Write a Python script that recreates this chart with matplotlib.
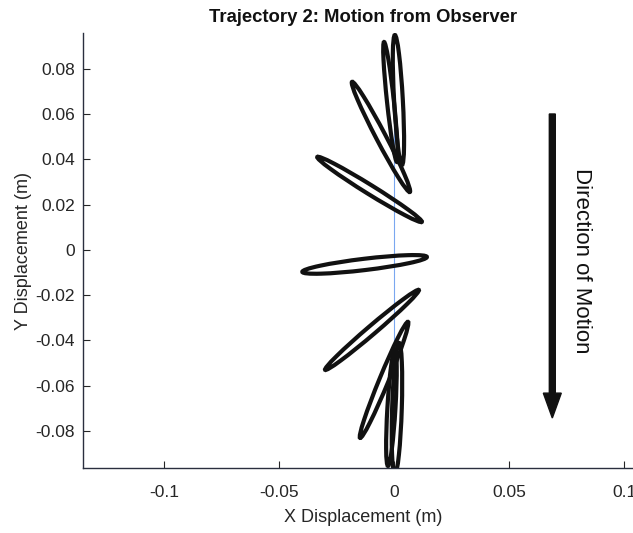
import numpy as np
import matplotlib
matplotlib.use('Agg')
import matplotlib.pyplot as plt
from matplotlib.patches import Ellipse

plt.rcParams['font.family'] = ['Liberation Sans', 'DejaVu Sans']

tip1_x = [0.0004, -0.0043, -0.0182, -0.0333, -0.0398, -0.0299, -0.0147, 0.0022, 0.0004]
tip1_y = [0.0950, 0.0919, 0.0743, 0.0411, -0.0097, -0.0530, -0.0831, -0.0411, -0.0442]
tip2_x = [0.0035, 0.0013, 0.0069, 0.0121, 0.0143, 0.0108, 0.0061, 0.0004, -0.0026]
tip2_y = [0.0376, 0.0389, 0.0256, 0.0124, -0.0031, -0.0177, -0.0318, -0.0990, -0.0955]
loop_w = [0.0038, 0.0030, 0.0042, 0.0040, 0.0050, 0.0038, 0.0040, 0.0042, 0.0035]

# observer line
obs_x = [0.0, 0.0]
obs_y = [0.055, -0.060]

# direction arrow
arrow_x = 0.0688
arrow_top = 0.0601
arrow_bot = -0.0743

xticks_v = [-0.1, -0.05, 0, 0.05, 0.1]
xticks_l = ['-0.1', '-0.05', '0', '0.05', '0.1']
yticks_v = [0.08, 0.06, 0.04, 0.02, 0, -0.02, -0.04, -0.06, -0.08]
yticks_l = ['0.08', '0.06', '0.04', '0.02', '0', '-0.02', '-0.04', '-0.06', '-0.08']

fig = plt.figure(figsize=(6.33, 5.33), dpi=100)
ax = fig.add_axes([83/633, 65/533, 560/633, 435/533])

ax.plot(obs_x, obs_y, color='#7aa7f0', lw=0.8, zorder=1)

for x1, y1, x2, y2, w in zip(tip1_x, tip1_y, tip2_x, tip2_y, loop_w):
    cx, cy = (x1 + x2) / 2, (y1 + y2) / 2
    length = np.hypot(x2 - x1, y2 - y1)
    ang = np.degrees(np.arctan2(y2 - y1, x2 - x1))
    ax.add_patch(Ellipse((cx, cy), length, w, angle=ang, fill=False,
                         edgecolor='#111111', lw=3.0, zorder=2))

ax.arrow(arrow_x, arrow_top, 0, arrow_bot - arrow_top, width=0.0026,
         head_width=0.0078, head_length=0.011, length_includes_head=True,
         color='#111111', zorder=3)
ax.text(0.0815, -0.005, 'Direction of Motion', rotation=-90, fontsize=16,
        ha='center', va='center', color='#111111')

ax.set_xlim(-0.1351, 0.1082)
ax.set_ylim(-0.0964, 0.0959)
ax.set_xticks(xticks_v)
ax.set_xticklabels(xticks_l)
ax.set_yticks(yticks_v)
ax.set_yticklabels(yticks_l)
ax.tick_params(direction='in', length=5, width=0.8, labelsize=12.5,
               colors='#262626', pad=6)
ax.tick_params(axis='x', pad=12)
for s in ['top', 'right']:
    ax.spines[s].set_visible(False)
for s in ['left', 'bottom']:
    ax.spines[s].set_color('#2a2f3f')
    ax.spines[s].set_linewidth(1.0)

ax.set_xlabel('X Displacement (m)', fontsize=13, color='#262626', labelpad=7)
ax.set_ylabel('Y Displacement (m)', fontsize=13, color='#262626', labelpad=2)
ax.set_title('Trajectory 2: Motion from Observer', fontsize=13.3,
             fontweight='bold', color='#111111', pad=8)

fig.savefig('out.png', dpi=100)
